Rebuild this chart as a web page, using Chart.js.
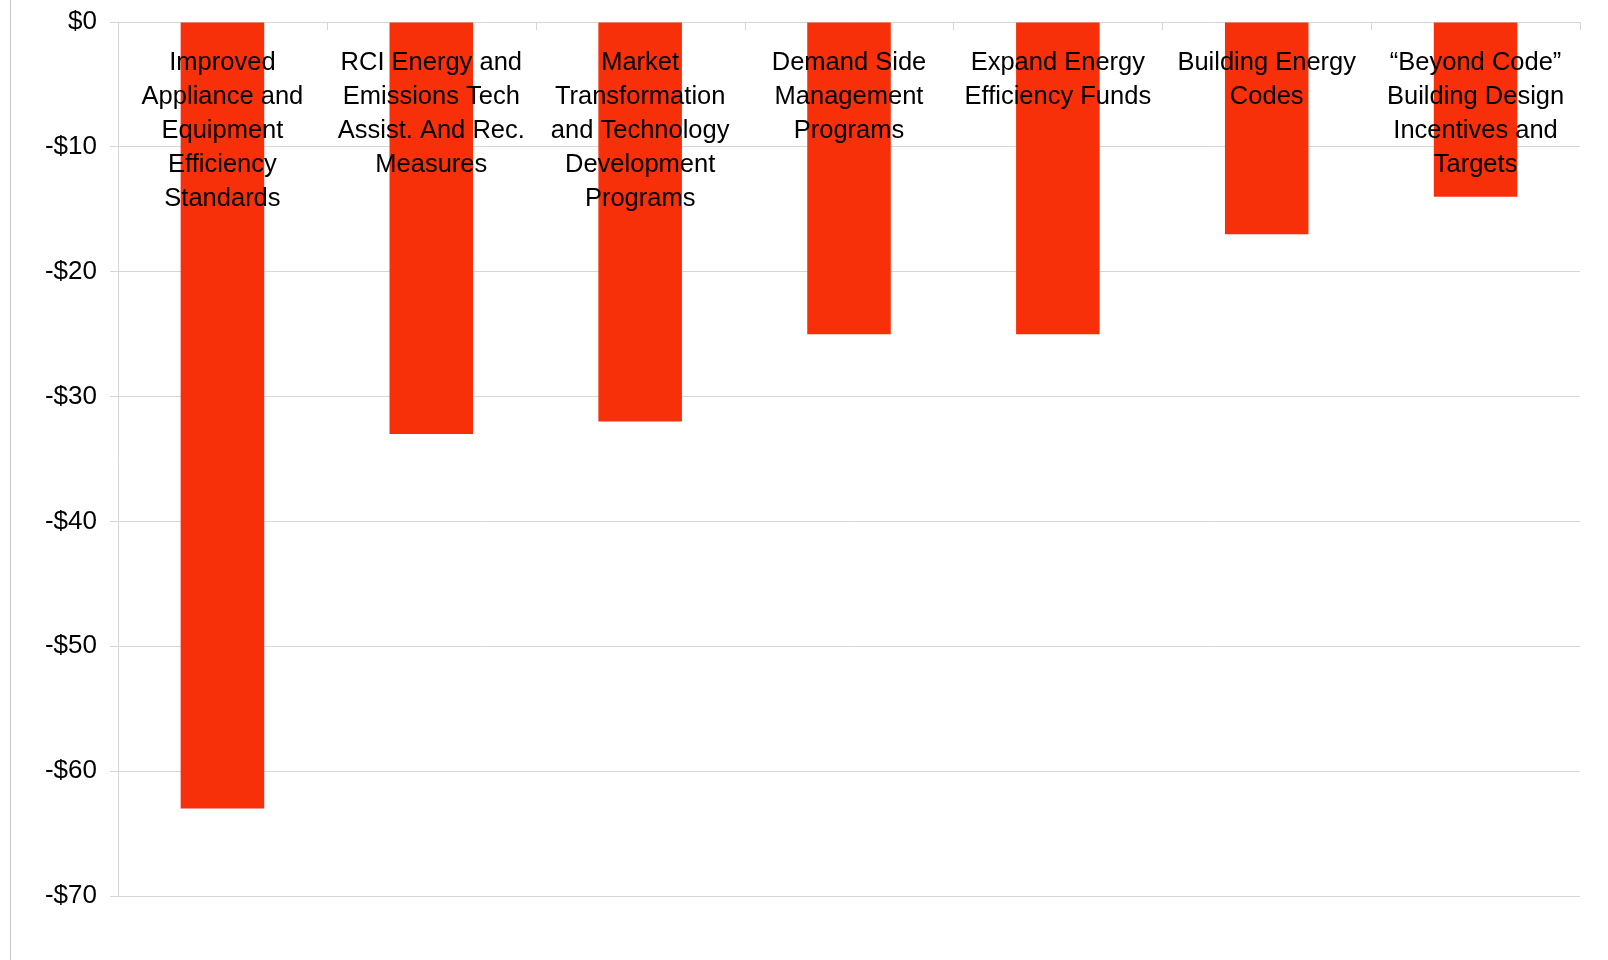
<!DOCTYPE html>
<html>
<head>
<meta charset="utf-8">
<script src="https://cdn.jsdelivr.net/npm/chart.js@4/dist/chart.umd.min.js"></script>
<style>
  html, body { margin: 0; padding: 0; background: #fff; }
  #wrap { position: relative; width: 1608px; height: 960px; }
  #edge { position: absolute; left: 10px; top: 0; width: 1px; height: 960px; background: #c8c8c8; }
  canvas { position: absolute; left: 0; top: 0; }
</style>
</head>
<body>
<div id="wrap">
  <div id="edge"></div>
  <canvas id="c" width="1608" height="960"></canvas>
</div>
<script>
const categories = [
  ["Improved", "Appliance and", "Equipment", "Efficiency", "Standards"],
  ["RCI Energy and", "Emissions Tech", "Assist. And Rec.", "Measures"],
  ["Market", "Transformation", "and Technology", "Development", "Programs"],
  ["Demand Side", "Management", "Programs"],
  ["Expand Energy", "Efficiency Funds"],
  ["Building Energy", "Codes"],
  ["\u201CBeyond Code\u201D", "Building Design", "Incentives and", "Targets"]
];
const costValues = [-63, -33, -32, -25, -25, -17, -14];
const yTicks = [0, -10, -20, -30, -40, -50, -60, -70];

const FONT = '"Liberation Sans", Arial, Helvetica, sans-serif';
const GRID = '#d6d6d6';

const topLabels = {
  id: 'topLabels',
  afterDatasetsDraw(chart) {
    const ctx = chart.ctx;
    const x = chart.scales.x;
    const area = chart.chartArea;
    ctx.save();
    ctx.strokeStyle = GRID;
    ctx.lineWidth = 1;
    const n = chart.data.labels.length;
    const half = (x.getPixelForValue(1) - x.getPixelForValue(0)) / 2;
    for (let i = 0; i <= n; i++) {
      const px = i < n ? x.getPixelForValue(i) - half : x.getPixelForValue(n - 1) + half;
      ctx.beginPath();
      ctx.moveTo(Math.round(px) + 0.5, area.top);
      ctx.lineTo(Math.round(px) + 0.5, area.top + 8);
      ctx.stroke();
    }
    ctx.fillStyle = '#000';
    ctx.font = '25.5px ' + FONT;
    ctx.textAlign = 'center';
    ctx.textBaseline = 'alphabetic';
    chart.data.labels.forEach((lines, i) => {
      const cx = x.getPixelForValue(i);
      lines.forEach((line, j) => {
        ctx.fillText(line, cx, area.top + 48 + j * 34);
      });
    });
    ctx.restore();
  }
};

new Chart(document.getElementById('c'), {
  type: 'bar',
  data: {
    labels: categories,
    datasets: [{
      data: costValues,
      backgroundColor: '#f8300a',
      borderWidth: 0,
      barPercentage: 0.4,
      categoryPercentage: 1.0
    }]
  },
  options: {
    responsive: false,
    animation: false,
    devicePixelRatio: 1,
    layout: { padding: { left: 0, right: 28, top: 22, bottom: 64 } },
    plugins: { legend: { display: false }, tooltip: { enabled: false } },
    scales: {
      x: {
        display: false,
        offset: true
      },
      y: {
        min: -70,
        max: 0,
        afterFit(scale) { scale.width = 118; scale.paddingTop = 0; scale.paddingBottom = 0; },
        afterBuildTicks(scale) { scale.ticks = yTicks.map(v => ({ value: v })); },
        ticks: {
          color: '#000',
          font: { family: FONT, size: 26 },
          padding: 13,
          callback: v => (v < 0 ? '-' : '') + '$' + Math.abs(v)
        },
        grid: { color: GRID, tickLength: 8, lineWidth: 1 },
        border: { display: true, color: GRID }
      }
    }
  },
  plugins: [topLabels]
});
</script>
</body>
</html>
